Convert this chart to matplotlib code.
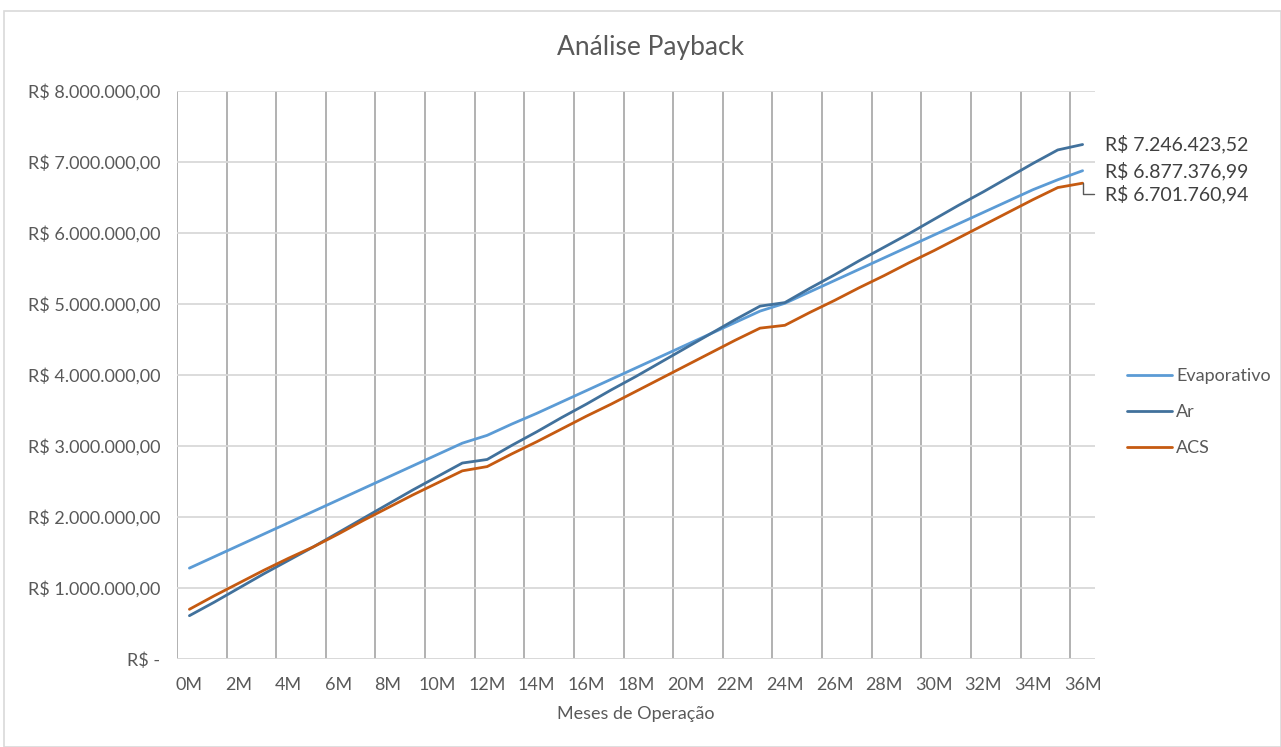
import matplotlib
matplotlib.use('Agg')
import matplotlib.pyplot as plt
from matplotlib.ticker import FuncFormatter, FixedLocator
from matplotlib.patches import Rectangle

# meses de operacao (0M .. 36M)
meses = list(range(37))
tick_meses = list(range(0, 37, 2))

# valores acumulados em milhoes de R$
evaporativo = [1.28, 1.44, 1.60, 1.76, 1.92, 2.08, 2.24, 2.40, 2.56, 2.72,
               2.88, 3.04, 3.15, 3.31, 3.46, 3.62, 3.78, 3.94, 4.10, 4.26,
               4.42, 4.58, 4.74, 4.90, 5.01, 5.17, 5.33, 5.49, 5.65, 5.81,
               5.97, 6.13, 6.29, 6.45, 6.61, 6.75, 6.87737699]
ar = [0.61, 0.80, 1.00, 1.20, 1.39, 1.58, 1.78, 1.98, 2.18, 2.38,
      2.57, 2.76, 2.81, 3.01, 3.20, 3.40, 3.59, 3.79, 3.98, 4.18,
      4.38, 4.58, 4.78, 4.97, 5.02, 5.22, 5.41, 5.61, 5.80, 5.99,
      6.19, 6.39, 6.58, 6.78, 6.98, 7.17, 7.24642352]
acs = [0.70, 0.89, 1.07, 1.25, 1.42, 1.58, 1.76, 1.95, 2.13, 2.31,
       2.48, 2.65, 2.71, 2.89, 3.06, 3.24, 3.42, 3.59, 3.77, 3.95,
       4.13, 4.31, 4.49, 4.66, 4.70, 4.88, 5.05, 5.23, 5.40, 5.58,
       5.75, 5.93, 6.11, 6.29, 6.47, 6.64, 6.70176094]

plt.rcParams['font.family'] = ['Lato', 'DejaVu Sans']


def brl(v):
    if abs(v) < 0.5:
        return "R$ -"
    s = "{:,.2f}".format(v)
    s = s.replace(",", "X").replace(".", ",").replace("X", ".")
    return "R$ " + s


fig = plt.figure(figsize=(12.81, 7.47), dpi=100)
ax = fig.add_axes([177 / 1281, 1 - 659 / 747, 918 / 1281, 568 / 747])

series = [("Evaporativo", evaporativo, "#5B9BD5"),
          ("Ar", ar, "#41719C"),
          ("ACS", acs, "#C55A11")]
for nome, vals, cor in series:
    ax.plot(meses, [v * 1e6 for v in vals], color=cor, lw=2.0, label=nome,
            solid_capstyle='round', zorder=3)

ax.set_xlim(-0.5, 36.5)
ax.set_ylim(0, 8e6)
ax.set_yticks([i * 1e6 for i in range(9)])
ax.yaxis.set_major_formatter(FuncFormatter(lambda v, p: brl(v)))
ax.set_xticks(tick_meses)
ax.set_xticklabels(["{}M".format(m) for m in tick_meses])
ax.xaxis.set_minor_locator(FixedLocator([m - 0.5 for m in tick_meses]))

ax.grid(axis='y', which='major', color='#d9d9d9', lw=1.3, zorder=1)
ax.grid(axis='x', which='minor', color='#ababab', lw=1.3, zorder=1)
ax.grid(axis='x', which='major', visible=False)
for s in ax.spines.values():
    s.set_visible(False)
ax.tick_params(axis='both', which='both', length=0, colors='#595959',
               labelsize=13)
ax.tick_params(axis='x', pad=13)
ax.tick_params(axis='y', pad=12)
ax.axhline(0, color='#d9d9d9', lw=1.3, zorder=2)

ax.set_xlabel("Meses de Operação", color='#595959', fontsize=13, labelpad=9)
fig.text(651 / 1281, 1 - 47 / 747, "Análise Payback", ha='center', va='center',
         fontsize=19, color='#595959')

# rotulos dos valores finais
ax.annotate(brl(ar[-1] * 1e6), (36, ar[-1] * 1e6), xytext=(16, 0),
            textcoords='offset points', va='center', ha='left',
            fontsize=14, color='#404040', annotation_clip=False)
ax.annotate(brl(evaporativo[-1] * 1e6), (36, evaporativo[-1] * 1e6),
            xytext=(16, 0), textcoords='offset points', va='center',
            ha='left', fontsize=14, color='#404040', annotation_clip=False)
ax.annotate(brl(acs[-1] * 1e6), (36, acs[-1] * 1e6), xytext=(16, -8),
            textcoords='offset points', va='center', ha='left',
            fontsize=14, color='#404040', annotation_clip=False,
            arrowprops=dict(arrowstyle='-', color='#595959', lw=1,
                            connectionstyle='angle,angleA=0,angleB=90,rad=0',
                            relpos=(0, 0.5), shrinkA=6, shrinkB=0))

fig.legend(loc='upper left', bbox_to_anchor=(1120 / 1281, 1 - 361 / 747),
           frameon=False, fontsize=13, labelspacing=1.1, handlelength=2.5,
           handletextpad=0.2, borderaxespad=0, labelcolor='#595959')

fig.patches.append(Rectangle((4 / 1281, 0), 1 - 4 / 1281, 1 - 11 / 747,
                             transform=fig.transFigure, fill=False,
                             edgecolor='#d9d9d9', lw=1.2))

plt.savefig("out.png", dpi=100)
plt.close()
